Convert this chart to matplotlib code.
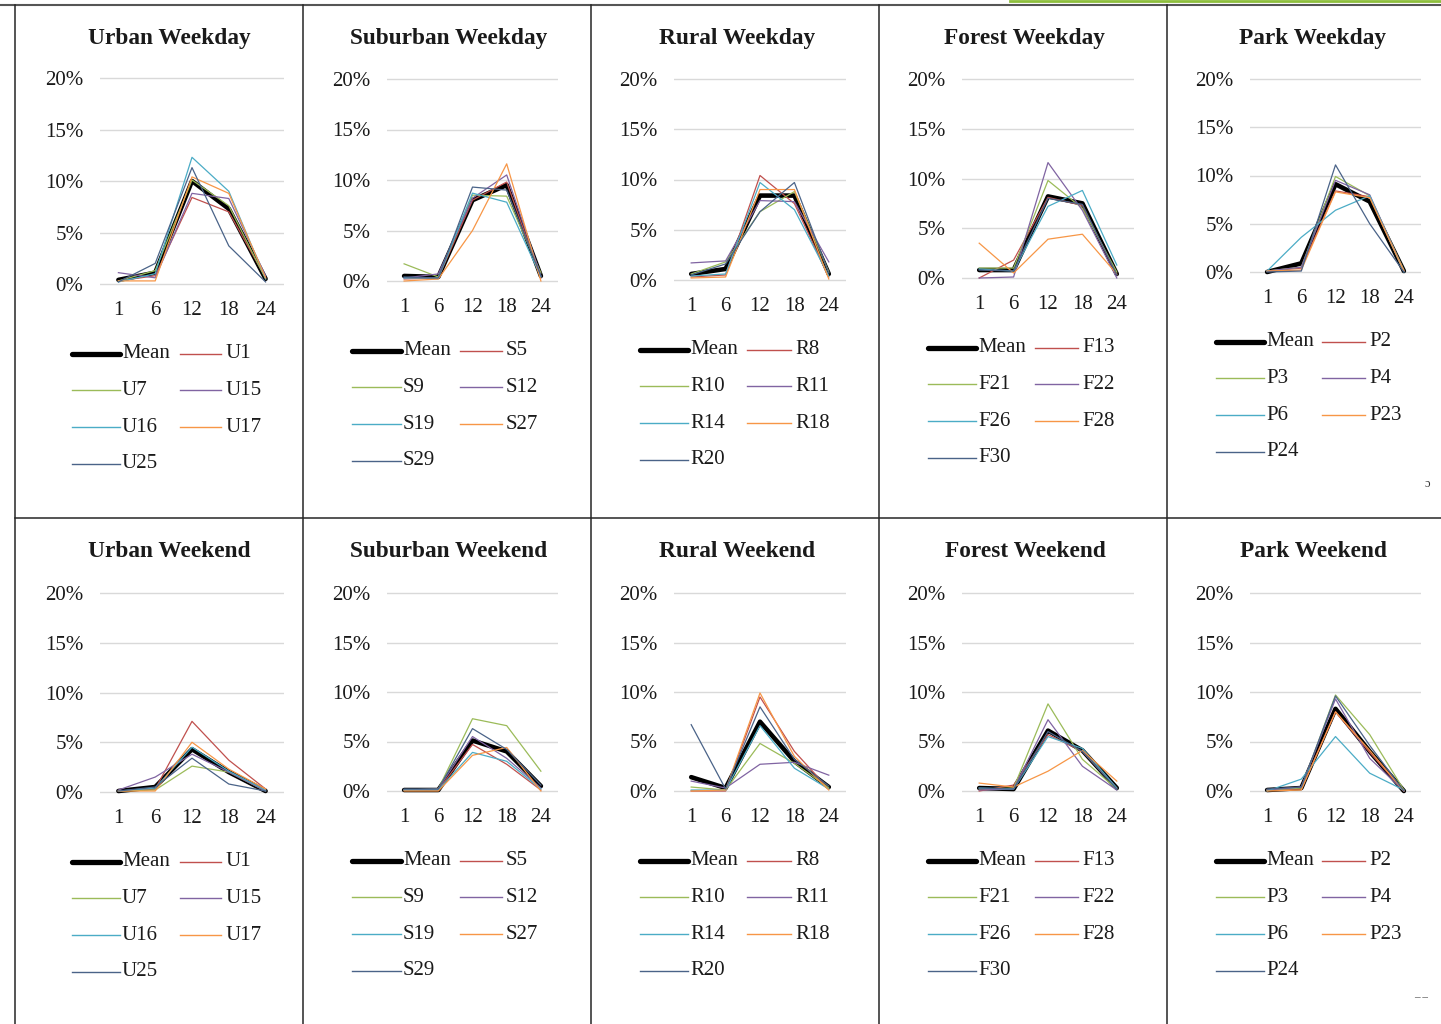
import matplotlib.pyplot as plt
from matplotlib.lines import Line2D

plt.rcParams['font.family'] = ['Liberation Serif', 'DejaVu Serif']

x_labels = ["1", "6", "12", "18", "24"]

titles_top = ["Urban Weekday", "Suburban Weekday", "Rural Weekday", "Forest Weekday", "Park Weekday"]
titles_bottom = ["Urban Weekend", "Suburban Weekend", "Rural Weekend", "Forest Weekend", "Park Weekend"]

urban_ids = ["Mean", "U1", "U7", "U15", "U16", "U17", "U25"]
suburban_ids = ["Mean", "S5", "S9", "S12", "S19", "S27", "S29"]
rural_ids = ["Mean", "R8", "R10", "R11", "R14", "R18", "R20"]
forest_ids = ["Mean", "F13", "F21", "F22", "F26", "F28", "F30"]
park_ids = ["Mean", "P2", "P3", "P4", "P6", "P23", "P24"]

# share of daily activity (%) at hours 1, 6, 12, 18, 24
urban_wd = [[0.4, 1.1, 10.0, 7.3, 0.5],
            [0.3, 0.8, 8.4, 7.0, 0.6],
            [0.3, 1.3, 10.1, 7.6, 0.5],
            [1.1, 0.6, 8.8, 8.3, 0.8],
            [0.2, 1.0, 12.3, 9.0, 0.5],
            [0.3, 0.3, 10.4, 8.8, 0.6],
            [0.2, 2.0, 11.3, 3.7, 0.2]]
suburban_wd = [[0.5, 0.4, 8.0, 9.5, 0.5],
               [0.2, 0.3, 8.0, 9.8, 0.3],
               [1.7, 0.4, 8.5, 8.4, 0.8],
               [0.3, 0.7, 8.2, 10.5, 0.5],
               [0.3, 0.3, 8.7, 7.8, 0.4],
               [0.0, 0.2, 5.0, 11.6, 0.0],
               [0.4, 0.3, 9.3, 9.0, 0.5]]
rural_wd = [[0.6, 1.1, 8.4, 8.4, 0.6],
            [0.3, 0.5, 10.4, 7.6, 0.3],
            [0.6, 1.8, 6.8, 8.8, 0.8],
            [1.7, 1.9, 7.9, 7.8, 1.8],
            [0.4, 0.6, 9.7, 7.0, 0.4],
            [0.2, 0.3, 9.0, 9.0, 0.1],
            [0.5, 1.6, 6.8, 9.7, 0.7]]
forest_wd = [[0.8, 0.8, 8.2, 7.5, 0.4],
             [0.0, 1.8, 8.1, 7.3, 0.3],
             [1.0, 1.0, 9.8, 7.0, 0.6],
             [0.0, 0.1, 11.6, 6.8, 0.0],
             [0.9, 0.7, 7.2, 8.8, 1.3],
             [3.5, 0.5, 3.9, 4.4, 0.4],
             [0.8, 0.7, 8.0, 7.4, 0.3]]
park_wd = [[0.0, 0.9, 9.1, 7.3, 0.1],
           [0.1, 0.4, 8.4, 7.8, 0.1],
           [0.1, 0.5, 9.9, 7.9, 0.2],
           [0.1, 0.5, 9.5, 8.0, 0.1],
           [0.1, 3.6, 6.4, 7.9, 0.0],
           [0.1, 0.2, 8.3, 7.7, 0.1],
           [0.0, 0.1, 11.1, 5.0, 0.0]]

urban_we = [[0.1, 0.5, 4.3, 2.0, 0.1],
            [0.1, 0.3, 7.1, 3.2, 0.3],
            [0.1, 0.2, 2.6, 2.0, 0.1],
            [0.2, 1.5, 3.8, 2.0, 0.1],
            [0.1, 0.4, 4.5, 2.1, 0.2],
            [0.1, 0.1, 5.0, 2.3, 0.3],
            [0.1, 0.5, 3.4, 0.8, 0.1]]
suburban_we = [[0.1, 0.1, 5.1, 4.0, 0.5],
               [0.1, 0.1, 4.7, 2.7, 0.1],
               [0.1, 0.2, 7.3, 6.6, 2.0],
               [0.1, 0.2, 5.5, 3.3, 0.3],
               [0.1, 0.1, 3.9, 3.0, 0.2],
               [0.0, 0.0, 3.6, 4.4, 0.0],
               [0.2, 0.2, 6.3, 4.2, 0.6]]
rural_we = [[1.4, 0.3, 7.0, 3.0, 0.4],
            [0.0, 0.0, 9.5, 4.0, 0.2],
            [0.4, 0.1, 4.8, 2.8, 0.3],
            [1.0, 0.3, 2.7, 2.9, 1.6],
            [0.1, 0.1, 6.6, 2.3, 0.2],
            [0.0, 0.1, 9.9, 3.5, 0.1],
            [6.7, 0.2, 8.5, 3.2, 0.5]]
forest_we = [[0.3, 0.2, 6.1, 4.1, 0.3],
             [0.0, 0.6, 5.7, 4.0, 0.3],
             [0.2, 0.3, 8.8, 3.2, 0.2],
             [0.1, 0.2, 7.2, 2.5, 0.1],
             [0.3, 0.2, 5.5, 4.3, 0.3],
             [0.8, 0.4, 2.0, 4.1, 1.0],
             [0.3, 0.2, 6.0, 4.0, 0.2]]
park_we = [[0.1, 0.3, 8.3, 4.0, 0.0],
           [0.1, 0.2, 8.0, 3.9, 0.0],
           [0.1, 0.3, 9.7, 5.7, 0.1],
           [0.1, 0.4, 9.3, 3.3, 0.0],
           [0.0, 1.2, 5.5, 1.8, 0.1],
           [0.0, 0.1, 8.0, 4.1, 0.0],
           [0.2, 0.4, 9.6, 4.6, 0.0]]

ids = [urban_ids, suburban_ids, rural_ids, forest_ids, park_ids]
top_data = [urban_wd, suburban_wd, rural_wd, forest_wd, park_wd]
bottom_data = [urban_we, suburban_we, rural_we, forest_we, park_we]

colors = ['black', '#C0504D', '#9BBB59', '#8064A2', '#4BACC6', '#F79646', '#4A6388']

W, H = 1441, 1024
fig = plt.figure(figsize=(W / 100, H / 100), dpi=100)


def px(x, y):
    return x / W, 1 - y / H


# table frame
line_c = '#262626'
fig.add_artist(Line2D([0, 1], [1 - 4.5 / H] * 2, color='#555555', lw=1.5))
fig.add_artist(Line2D([1010 / W, 1], [1 - 0.5 / H] * 2, color='#8DBE3C', lw=2))
for xv in [15, 303, 591, 879, 1167]:
    fig.add_artist(Line2D([xv / W] * 2, [0, 1 - 5 / H], color=line_c, lw=1.1))
fig.add_artist(Line2D([15 / W, 1], [1 - 518 / H] * 2, color=line_c, lw=1.1))
# stray page marks on the right edge
fig.text(1427 / W, 1 - 484 / H, 'ɔ', fontsize=9, ha='center', va='center', color='#333333')
fig.text(1421 / W, 1 - 998 / H, '– –', fontsize=8, ha='center', va='center', color='#333333')

# panel geometry (pixels)
grid_x = [(100, 284), (387, 558), (674, 846), (962, 1134), (1250, 1421)]
zero_top = [284, 281, 280, 278, 272]
twenty_top = [78, 79, 79, 79, 79]
zero_bot = [792, 791, 791, 791, 791]
twenty_bot = [593, 593, 593, 593, 593]
title_x = [169, 449, 737, 1025, 1313]
leg_x = [(70, 122, 178, 225), (350, 403, 458, 506), (638, 690, 745, 795),
         (926, 978, 1033, 1082), (1214, 1266, 1320, 1369)]

fs = 15
pad = 0.6


def panel(col, y0, y20, title_y, title, data, names):
    gx0, gx1 = grid_x[col]
    unit = (y0 - y20) / 20.0
    top = y20 - pad * unit
    bot = y0 + pad * unit
    l, b = px(gx0, bot)
    ax = fig.add_axes([l, b, (gx1 - gx0) / W, (bot - top) / H])
    ax.set_xlim(-0.5, 4.5)
    ax.set_ylim(-pad, 20 + pad)
    for sp in ax.spines.values():
        sp.set_visible(False)
    ax.set_yticks([0, 5, 10, 15, 20])
    ax.set_yticklabels(['0%', '5%', '10%', '15%', '20%'], fontsize=fs, color='#1a1a1a')
    ax.set_xticks(range(5))
    ax.set_xticklabels(x_labels, fontsize=fs, color='#1a1a1a')
    ax.tick_params(length=0, pad=12)
    ax.tick_params(axis='x', pad=8)
    ax.grid(axis='y', color='#D9D9D9', lw=1.0)
    ax.set_axisbelow(True)
    ax.patch.set_alpha(0)
    for i, vals in enumerate(data):
        if i == 0:
            ax.plot(range(5), vals, color='black', lw=3.3, solid_capstyle='round',
                    solid_joinstyle='round', zorder=2)
        else:
            ax.plot(range(5), vals, color=colors[i], lw=0.9, zorder=3)

    fig.text(title_x[col] / W, 1 - title_y / H, title, ha='center', va='center',
             fontsize=16.8, fontweight='bold', color='#1a1a1a')

    # legend, two columns, row-major
    lx = leg_x[col]
    for i, name in enumerate(names):
        r, c = divmod(i, 2)
        yy = 1 - (y0 + 69.5 + r * 36.8) / H
        x0 = lx[0] if c == 0 else lx[2]
        x1 = lx[1] - 2 if c == 0 else lx[3] - 4
        if i == 0:
            fig.add_artist(Line2D([(x0 + 2) / W, x1 / W], [yy, yy], color='black', lw=3.8,
                                  solid_capstyle='round'))
        else:
            fig.add_artist(Line2D([(x0 + 2) / W, x1 / W], [yy, yy], color=colors[i], lw=1.0))
        tx = lx[1] if c == 0 else lx[3]
        fig.text(tx / W, yy, name, ha='left', va='center', fontsize=fs, color='#1a1a1a')


for col in range(5):
    panel(col, zero_top[col], twenty_top[col], 38.5, titles_top[col], top_data[col], ids[col])
    panel(col, zero_bot[col], twenty_bot[col], 551.5, titles_bottom[col], bottom_data[col], ids[col])

fig.savefig('out.png', dpi=100)
